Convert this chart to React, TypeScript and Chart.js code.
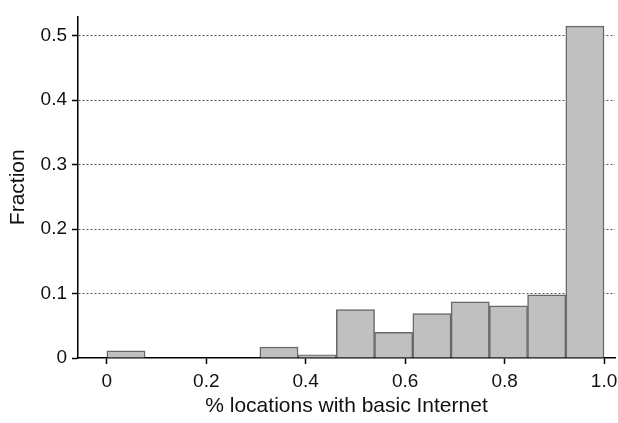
import React, { useEffect, useRef } from "react";
import { Chart, registerables } from "chart.js";

Chart.register(...registerables);

// Histogram bins (13 equal bins on [0, 1]) — bin centres
const binCenters = [0.0385, 0.1154, 0.1923, 0.2692, 0.3462, 0.4231, 0.5, 0.5769, 0.6538, 0.7308, 0.8077, 0.8846, 0.9615];
// Fraction of locations in each bin
const fractions = [0.011, 0, 0, 0, 0.017, 0.005, 0.075, 0.040, 0.069, 0.087, 0.081, 0.098, 0.515];

const xTickValues = [0, 0.2, 0.4, 0.6, 0.8, 1.0];
const xTickLabels = ["0", "0.2", "0.4", "0.6", "0.8", "1.0"];
const yTickValues = [0, 0.1, 0.2, 0.3, 0.4, 0.5];
const yTickLabels = ["0", "0.1", "0.2", "0.3", "0.4", "0.5"];

const xTitle = "% locations with basic Internet";
const yTitle = "Fraction";

export default function App() {
  const ref = useRef<HTMLCanvasElement | null>(null);

  useEffect(() => {
    if (!ref.current) return;
    const font = "'Liberation Sans', Arial, Helvetica, sans-serif";
    const chart = new Chart(ref.current, {
      type: "bar",
      data: {
        datasets: [
          {
            data: binCenters.map((x, i) => ({ x, y: fractions[i] })),
            backgroundColor: "#c0c0c0",
            borderColor: "#686868",
            borderWidth: 1.5,
            borderSkipped: "start",
            barPercentage: 1,
            categoryPercentage: 1,
          },
        ],
      },
      options: {
        animation: false,
        responsive: true,
        maintainAspectRatio: false,
        layout: { padding: { top: 12, right: 3, bottom: 0, left: 0 } },
        plugins: { legend: { display: false }, tooltip: { enabled: false } },
        scales: {
          x: {
            type: "linear",
            min: -0.058,
            max: 1.022,
            offset: false,
            afterBuildTicks: (scale: any) => {
              scale.ticks = xTickValues.map((v) => ({ value: v }));
            },
            afterFit: (scale: any) => {
              scale.height = 65;
              scale.paddingLeft = 0;
              scale.paddingRight = 0;
            },
            ticks: {
              autoSkip: false,
              maxRotation: 0,
              padding: 6,
              color: "#111",
              font: { family: font, size: 19 },
              callback: (_v: any, i: number) => xTickLabels[i],
            },
            grid: {
              offset: false,
              drawOnChartArea: false,
              drawTicks: true,
              tickLength: 6,
              tickColor: "#000",
              tickWidth: 1.5,
            },
            border: { display: true, color: "#000", width: 1.5 },
            title: {
              display: true,
              text: xTitle,
              color: "#111",
              font: { family: font, size: 21 },
              padding: { top: 0, bottom: 4 },
            },
          },
          y: {
            type: "linear",
            min: 0,
            max: 0.53,
            afterBuildTicks: (scale: any) => {
              scale.ticks = yTickValues.map((v) => ({ value: v }));
            },
            afterFit: (scale: any) => {
              scale.width = 78;
            },
            ticks: {
              padding: 5,
              color: "#111",
              font: { family: font, size: 19 },
              callback: (_v: any, i: number) => yTickLabels[i],
            },
            grid: {
              drawOnChartArea: true,
              drawTicks: true,
              tickLength: 6,
              tickColor: "#000",
              tickWidth: 1.5,
              tickBorderDash: [],
              lineWidth: 1,
              color: (ctx: any) => (ctx.tick && ctx.tick.value === 0 ? "rgba(0,0,0,0)" : "#555"),
            },
            border: { display: true, color: "#000", width: 1.5, dash: [2, 2] },
            title: {
              display: true,
              text: yTitle,
              color: "#111",
              font: { family: font, size: 21 },
              padding: { top: 6, bottom: 0 },
            },
          },
        },
      },
    } as any);
    return () => chart.destroy();
  }, []);

  return (
    <div style={{ position: "absolute", left: 0, top: 0, width: 618, height: 423, background: "#fff" }}>
      <canvas ref={ref} />
    </div>
  );
}
